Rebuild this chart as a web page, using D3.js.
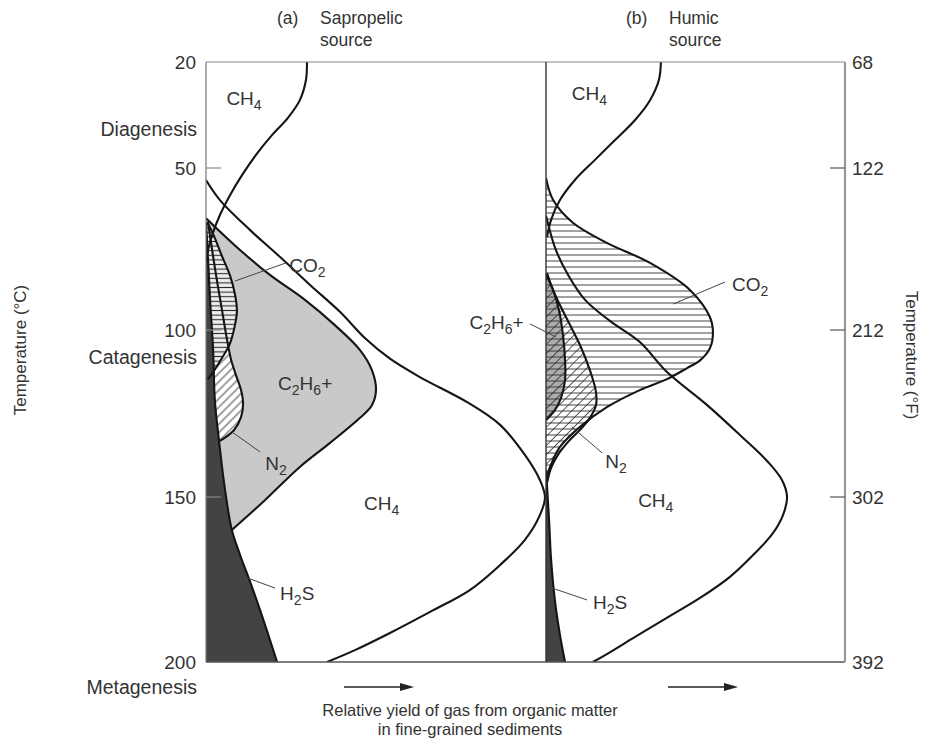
<!DOCTYPE html>
<html>
<head>
<meta charset="utf-8">
<script src="https://cdn.jsdelivr.net/npm/d3@7/dist/d3.min.js"></script>
<style>
  body { margin: 0; background: #fff; }
  text { font-family: "Liberation Sans", Arial, Helvetica, sans-serif; fill: #333; }
</style>
</head>
<body>
<svg id="chart" width="932" height="738"></svg>
<script>
// Temperature axis ticks (°C) and the matching Fahrenheit labels
const tempC = [20, 50, 100, 150, 200];
const tempF = [68, 122, 212, 302, 392];

// Maturation stages and the temperature each name is set against
const stageNames = ["Diagenesis", "Catagenesis", "Metagenesis"];
const stageTemps = [39, 108, 207.5];

const panelTitles = [["(a)", "Sapropelic", "source"], ["(b)", "Humic", "source"]];

// Gas generation profiles: [temperature °C, relative yield]
// (a) sapropelic source
const sapBiogenicCH4 = [[20,29.7],[25.1,29.4],[30.8,27.6],[35.8,24.1],[40.7,19.4],[46.3,14.7],[52.2,10.6],[58.3,7.1],[64.5,4.1],[70.7,1.8],[75.3,0.6],[79,0]];
const sapCH4 = [[53.7,0],[59.9,4.1],[69.1,12.9],[77.5,21.8],[86.1,30.6],[94.4,39.4],[102.5,46.8],[108.6,54.1],[114.1,62.9],[121.6,76.8],[128.4,86.5],[137.4,93.8],[144.9,98.2],[150,99.7],[155.5,98.2],[163,93.8],[170.6,86.5],[178.2,77.6],[184.8,65.9],[191.2,54.1],[196.4,43.8],[200,35.6]];
const sapC2H6 = [[65.5,0],[75.3,10],[83,18.8],[90.7,29.1],[98.5,37.9],[106,45.3],[112,48.8],[118,50],[122.5,48.8],[126.3,45.3],[133.8,36.5],[141,27.6],[150.9,17.4],[160,7.6]];
const sapCO2 = [[66.7,0.3],[70.4,2.1],[77.2,4.7],[83.3,7.1],[88.9,8.5],[94.1,9.1],[98.5,8.5],[103.9,7.1],[108.4,4.7],[112.6,2.1],[114.8,0.5]];
const sapN2 = [[66.7,0.6],[75.3,1.8],[84.6,3.2],[93.8,4.7],[103,6.2],[109,7.4],[113.5,8.8],[118,10.3],[121.9,10.9],[126.1,10.3],[130,8.2],[133.2,4.1]];
const sapH2S = [[66.7,0],[78.4,0.6],[90.7,1.2],[106,2.1],[121,2.6],[132.9,3.8],[147.9,5.6],[160,7.6],[167.5,10],[175.5,12.9],[186.1,16.5],[200,20.9]];

// (b) humic source
const humBiogenicCH4 = [[20,33.8],[25.1,33.2],[30.8,30.6],[36.4,26.2],[42.1,20.3],[47.7,14.4],[53.7,8.5],[59.9,4.1],[66,1.5],[71.3,0.3]];
const humCH4 = [[64.7,0],[75.3,2.9],[83,6.5],[90.7,11.5],[97.2,18.8],[103.6,27.6],[112.6,35.6],[122.5,47.4],[131.5,57.1],[139.5,65.3],[144.9,69.4],[150,70.9],[155.5,69.7],[160.9,66.8],[167,61.5],[174.2,54.1],[180.6,45.3],[186.4,35.9],[192.4,26.2],[197.9,17.4],[200,13.8]];
const humCO2 = [[53.1,0],[59.9,2.1],[66.9,7.9],[73.1,17.9],[79.3,30.6],[87.7,42.4],[96,48.2],[100.9,49.1],[105.5,48.2],[109.1,45.3],[111.4,41.5],[114.7,35.6],[118,27.6],[123.1,17.9],[129,10],[135,4.1],[141,1.2],[144.9,0]];
const humN2 = [[82.4,0.3],[87.7,2.1],[92.3,4.1],[98.5,7.1],[104.5,10],[112,12.9],[118.6,14.7],[122.5,14.7],[126.3,12.9],[129.9,10],[133.5,6.5],[137.4,3.5],[141.3,1.5],[145.8,0.3]];
const humC2H6 = [[83,0],[87.7,2.1],[93.8,3.8],[101.5,5],[109,5.6],[115,5.6],[120.4,4.4],[124,2.6],[127,0]];
const humH2S = [[142,0],[157,0.9],[169,1.5],[181.2,2.6],[191.8,4.1],[200,5.6]];

// ---------------------------------------------------------------------------
const svg = d3.select("#chart");
const plotTop = 62, plotBottom = 662, plotLeft = 206, plotMid = 546, plotRight = 845;

const y = d3.scaleLinear().domain(tempC).range([62, 168, 330, 497, 662]);
const x = d3.scaleLinear().domain([0, 100]).range([0, 340]);

const curve = d3.curveCatmullRom.alpha(0.5);
const line = d3.line().curve(curve).x(d => x(d[1])).y(d => y(d[0]));
const area = d3.area().curve(curve).y(d => y(d[0])).x0(0).x1(d => x(d[1]));

const defs = svg.append("defs");
function hatch(id, spacing, angle, bg, w) {
  const p = defs.append("pattern").attr("id", id)
    .attr("patternUnits", "userSpaceOnUse")
    .attr("width", 12).attr("height", spacing)
    .attr("patternTransform", `rotate(${angle})`);
  if (bg) p.append("rect").attr("width", 12).attr("height", spacing).attr("fill", bg);
  p.append("line").attr("x1", 0).attr("x2", 12)
    .attr("y1", spacing / 2).attr("y2", spacing / 2)
    .attr("stroke", "#2e2e2e").attr("stroke-width", w);
}
hatch("hA", 4.6, 0, "#eeeeee", 1.1);
hatch("dA", 6, -45, "#ffffff", 0.9);
hatch("hB", 6, 0, null, 0.9);
hatch("dB", 6.5, -45, null, 0.8);

const panels = [
  { x0: plotLeft, width: plotMid - plotLeft },
  { x0: plotMid, width: plotRight - plotMid }
];
panels.forEach((p, i) => {
  defs.append("clipPath").attr("id", "clip" + i)
    .append("rect").attr("x", 0).attr("y", plotTop).attr("width", p.width).attr("height", plotBottom - plotTop);
});

function panel(i) {
  return svg.append("g").attr("transform", `translate(${panels[i].x0},0)`)
    .attr("clip-path", `url(#clip${i})`);
}

// ---- (a) sapropelic
const ga = panel(0);
ga.append("path").datum(sapC2H6).attr("d", area).attr("fill", "#c9c9c9");
ga.append("path").datum(sapN2).attr("d", area).attr("fill", "url(#dA)");
ga.append("path").datum(sapCO2).attr("d", area).attr("fill", "url(#hA)");
ga.append("path").datum(sapH2S).attr("d", area).attr("fill", "#434343");
[sapC2H6, sapCO2, sapN2, sapH2S, sapCH4, sapBiogenicCH4].forEach(d => {
  ga.append("path").datum(d).attr("d", line)
    .attr("fill", "none").attr("stroke", "#151515").attr("stroke-width", 2.1);
});

// ---- (b) humic
const gb = panel(1);
gb.append("path").datum(humC2H6).attr("d", area).attr("fill", "#adadad");
gb.append("path").datum(humCO2).attr("d", area).attr("fill", "url(#hB)");
gb.append("path").datum(humN2).attr("d", area).attr("fill", "url(#dB)");
gb.append("path").datum(humH2S).attr("d", area).attr("fill", "#434343");
[humC2H6, humCO2, humN2, humH2S, humCH4, humBiogenicCH4].forEach(d => {
  gb.append("path").datum(d).attr("d", line)
    .attr("fill", "none").attr("stroke", "#151515").attr("stroke-width", 2.1);
});

// ---- frame
svg.append("line").attr("x1", plotLeft).attr("x2", plotRight).attr("y1", plotTop).attr("y2", plotTop)
  .attr("stroke", "#8a8a8a").attr("stroke-width", 1.2);
svg.append("line").attr("x1", plotLeft).attr("x2", plotRight).attr("y1", plotBottom).attr("y2", plotBottom)
  .attr("stroke", "#555").attr("stroke-width", 1.3);
svg.append("line").attr("x1", plotLeft).attr("x2", plotLeft).attr("y1", plotTop).attr("y2", plotBottom)
  .attr("stroke", "#777").attr("stroke-width", 1.2);
svg.append("line").attr("x1", plotMid).attr("x2", plotMid).attr("y1", plotTop).attr("y2", plotBottom)
  .attr("stroke", "#333").attr("stroke-width", 1.4);
svg.append("line").attr("x1", plotRight).attr("x2", plotRight).attr("y1", plotTop).attr("y2", plotBottom)
  .attr("stroke", "#999").attr("stroke-width", 2.2);

// ---- axes
const leftAxis = d3.axisLeft(y).tickValues(tempC).tickSize(0).tickPadding(10);
const gl = svg.append("g").attr("transform", `translate(${plotLeft},0)`).call(leftAxis);
const rightAxis = d3.axisRight(y).tickValues(tempC).tickFormat((d, i) => tempF[i]).tickSize(0).tickPadding(7);
const gr = svg.append("g").attr("transform", `translate(${plotRight},0)`).call(rightAxis);
[gl, gr].forEach(g => {
  g.select(".domain").remove();
  g.selectAll("text").attr("font-size", 19).attr("fill", "#333")
    .attr("font-family", "'Liberation Sans', Arial, sans-serif");
});
// inner tick marks
tempC.slice(1, -1).forEach(t => {
  svg.append("line").attr("x1", plotLeft).attr("x2", plotLeft + 15).attr("y1", y(t)).attr("y2", y(t))
    .attr("stroke", "#888").attr("stroke-width", 1.2);
  svg.append("line").attr("x1", plotRight - 15).attr("x2", plotRight).attr("y1", y(t)).attr("y2", y(t))
    .attr("stroke", "#555").attr("stroke-width", 1.2);
});

// stage names
stageNames.forEach((s, i) => {
  svg.append("text").attr("x", plotLeft - 9).attr("y", y(stageTemps[i]) + 7)
    .attr("text-anchor", "end").attr("font-size", 19.5).text(s);
});

// axis titles
svg.append("text").attr("transform", "translate(26,350) rotate(-90)")
  .attr("text-anchor", "middle").attr("font-size", 17).text("Temperature (°C)");
svg.append("text").attr("transform", "translate(906,355) rotate(90)")
  .attr("text-anchor", "middle").attr("font-size", 17).text("Temperature (°F)");

// panel titles
panelTitles.forEach((tt, i) => {
  const x0 = panels[i].x0 + (i === 0 ? 71 : 80);
  svg.append("text").attr("x", x0).attr("y", 24).attr("font-size", 17.5).text(tt[0]);
  svg.append("text").attr("x", x0 + 43).attr("y", 24).attr("font-size", 17.5).text(tt[1]);
  svg.append("text").attr("x", x0 + 43).attr("y", 46).attr("font-size", 17.5).text(tt[2]);
});

// caption and yield arrows
svg.append("text").attr("x", 470).attr("y", 716).attr("text-anchor", "middle")
  .attr("font-size", 16.5).text("Relative yield of gas from organic matter");
svg.append("text").attr("x", 470).attr("y", 734.5).attr("text-anchor", "middle")
  .attr("font-size", 16.5).text("in fine-grained sediments");
[[344, 414], [668, 738]].forEach(([a, b]) => {
  svg.append("line").attr("x1", a).attr("x2", b - 10).attr("y1", 687).attr("y2", 687)
    .attr("stroke", "#222").attr("stroke-width", 1.6);
  svg.append("path").attr("d", `M${b},687 L${b - 14},683 L${b - 14},691 Z`).attr("fill", "#222");
});

// gas labels: "_" marks a subscript character
function rich(sel, str) {
  const parts = [];
  for (let i = 0; i < str.length; i++) {
    if (str[i] === "_") { parts.push({ t: str[i + 1], sub: true }); i++; }
    else if (parts.length && !parts[parts.length - 1].sub) parts[parts.length - 1].t += str[i];
    else parts.push({ t: str[i], sub: false });
  }
  let low = false;
  parts.forEach(p => {
    const ts = sel.append("tspan").text(p.t);
    if (p.sub) { ts.attr("font-size", 14); if (!low) { ts.attr("dy", 5); low = true; } }
    else if (low) { ts.attr("dy", -5); low = false; }
  });
}

const annotations = [
  { p: 0, text: "CH_4", t: 30.2, v: 6.0 },
  { p: 0, text: "CO_2", t: 79.9, v: 24.5, from: [79.3, 23.5], to: [84.9, 8.5] },
  { p: 0, text: "C_2H_6+", t: 115.9, v: 21.2 },
  { p: 0, text: "N_2", t: 139.8, v: 17.4, from: [136.5, 15.9], to: [130.5, 7.6] },
  { p: 0, text: "CH_4", t: 151.8, v: 46.5 },
  { p: 0, text: "H_2S", t: 179.1, v: 21.8, from: [177.6, 20.3], to: [174.5, 12.1] },
  { p: 0, text: "C_2H_6+", t: 97.5, v: 77.5, from: [98.1, 95.3], to: [102.1, 102.9] },
  { p: 1, text: "CH_4", t: 28.8, v: 7.6 },
  { p: 1, text: "CO_2", t: 85.8, v: 54.7, from: [85.2, 52.6], to: [92, 37.4] },
  { p: 1, text: "N_2", t: 139.2, v: 17.4, from: [136.8, 16.5], to: [129, 7.6] },
  { p: 1, text: "CH_4", t: 150.9, v: 27.1 },
  { p: 1, text: "H_2S", t: 181.8, v: 13.8, from: [181.2, 12.1], to: [177.6, 1.8] }
];
annotations.forEach(a => {
  const x0 = panels[a.p].x0;
  if (a.from) {
    svg.append("line")
      .attr("x1", x0 + x(a.from[1])).attr("y1", y(a.from[0]))
      .attr("x2", x0 + x(a.to[1])).attr("y2", y(a.to[0]))
      .attr("stroke", "#444").attr("stroke-width", 1);
  }
  const tx = svg.append("text").attr("x", x0 + x(a.v)).attr("y", y(a.t) + 7).attr("font-size", 19);
  rich(tx, a.text);
});
</script>
</body>
</html>
